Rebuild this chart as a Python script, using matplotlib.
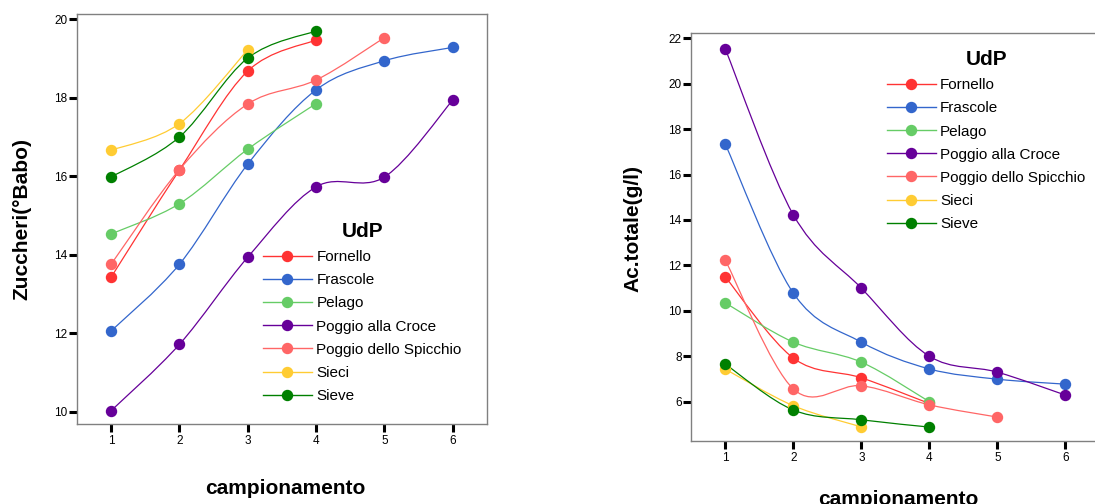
import numpy as np
import matplotlib
matplotlib.use("Agg")
import matplotlib.pyplot as plt
from matplotlib.path import Path
from matplotlib.patches import PathPatch
from matplotlib.lines import Line2D

plt.rcParams['font.family'] = ['Liberation Sans', 'DejaVu Sans']

# campionamento -> values, per UdP
udp = ["Fornello", "Frascole", "Pelago", "Poggio alla Croce",
       "Poggio dello Spicchio", "Sieci", "Sieve"]
colors = ["#FF3333", "#3366CC", "#66CC66", "#660099",
          "#FF6666", "#FFCC33", "#008000"]

zuccheri = {
    "Fornello": [13.43, 16.16, 18.68, 19.47],
    "Frascole": [12.06, 13.76, 16.31, 18.20, 18.94, 19.28],
    "Pelago": [14.53, 15.30, 16.69, 17.85],
    "Poggio alla Croce": [10.03, 11.72, 13.94, 15.73, 15.98, 17.94],
    "Poggio dello Spicchio": [13.76, 16.17, 17.84, 18.45, 19.53],
    "Sieci": [16.66, 17.34, 19.22],
    "Sieve": [15.98, 17.00, 19.01, 19.70],
}

acidita = {
    "Fornello": [11.49, 7.92, 7.05, 5.92],
    "Frascole": [17.34, 10.78, 8.62, 7.44, 6.99, 6.77],
    "Pelago": [10.35, 8.62, 7.74, 6.00],
    "Poggio alla Croce": [21.53, 14.23, 11.00, 8.00, 7.30, 6.29],
    "Poggio dello Spicchio": [12.23, 6.56, 6.70, 5.86, 5.32],
    "Sieci": [7.43, 5.82, 4.89],
    "Sieve": [7.65, 5.63, 5.20, 4.88],
}


def smooth_path(xs, ys):
    # Catmull-Rom through the points, as cubic bezier segments
    p = np.column_stack([xs, ys]).astype(float)
    n = len(p)
    verts = [p[0]]
    codes = [Path.MOVETO]
    for i in range(n - 1):
        p0 = p[i - 1] if i > 0 else p[i]
        p3 = p[i + 2] if i + 2 < n else p[i + 1]
        c1 = p[i] + (p[i + 1] - p0) / 6.0
        c2 = p[i + 1] - (p3 - p[i]) / 6.0
        verts += [c1, c2, p[i + 1]]
        codes += [Path.CURVE4] * 3
    return Path(verts, codes)


def draw_panel(ax, data, ylim, yticks, ylabel, ylabel_pos, xlabel_pos, leg_pos):
    for name, col in zip(udp, colors):
        vals = data[name]
        xs = np.arange(1, len(vals) + 1)
        ax.add_patch(PathPatch(smooth_path(xs, vals), fc='none', ec=col, lw=0.9))
        ax.plot(xs, vals, 'o', color=col, ms=7.2, mec=col)
    ax.set_xlim(0.5, 6.5)
    ax.set_ylim(*ylim)
    ax.set_xticks(range(1, 7))
    ax.set_yticks(yticks)
    for s in ax.spines.values():
        s.set_color('#808080')
        s.set_linewidth(1.0)
    ax.tick_params(direction='out', length=5.5, width=2.2, color='black',
                   labelsize=8.5, pad=1.5)
    ax.tick_params(axis='x', pad=2.5)
    ax.set_ylabel(ylabel, fontsize=15, fontweight='bold')
    ax.yaxis.set_label_coords(*ylabel_pos)
    ax.set_xlabel("campionamento", fontsize=15, fontweight='bold')
    ax.xaxis.set_label_coords(*xlabel_pos)

    handles = [Line2D([], [], color=c, lw=1.0, marker='o', ms=7.2) for c in colors]
    leg = ax.legend(handles, udp, title="UdP", loc='upper left',
                    bbox_to_anchor=leg_pos, frameon=False, borderpad=0,
                    borderaxespad=0, fontsize=11, handlelength=3.2,
                    handletextpad=0.3, labelspacing=0.6)
    leg.get_title().set_fontsize(15)
    leg.get_title().set_fontweight('bold')
    return leg


fig = plt.figure(figsize=(10.95, 5.04), dpi=100)

ax1 = fig.add_axes([77 / 1095, 80 / 504, 410 / 1095, 410 / 504])
draw_panel(ax1, zuccheri, (9.69, 20.13), range(10, 21, 2), "Zuccheri(\u00b0Babo)",
           (-0.112, 0.5), (0.507, -0.134), (0.4537, 0.4927))

ax2 = fig.add_axes([691.3 / 1095, 63.3 / 504, 408 / 1095, 407.4 / 504])
draw_panel(ax2, acidita, (4.28, 22.22), range(6, 23, 2), "Ac.totale(g/l)",
           (-0.12, 0.52), (0.507, -0.121), (0.479, 0.959))

fig.savefig("out.png", dpi=100)
